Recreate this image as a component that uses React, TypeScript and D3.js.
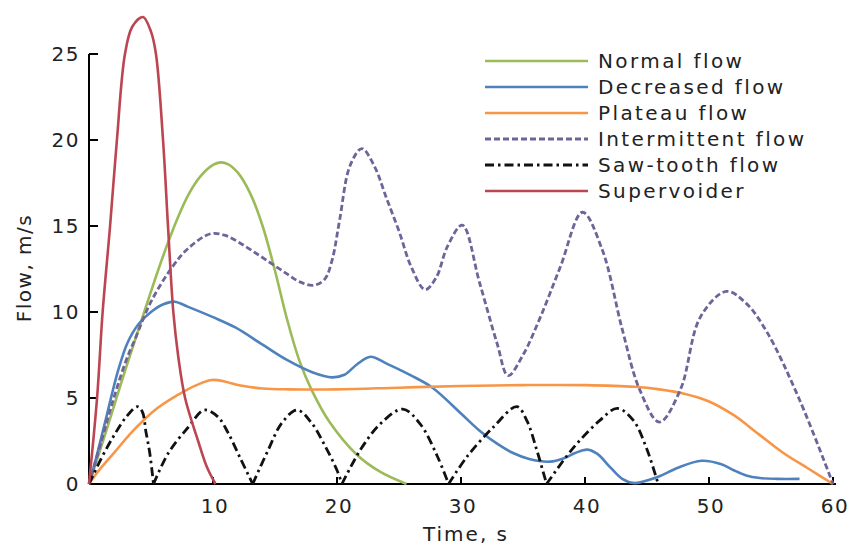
import * as d3 from "d3";

// [time s, flow m/s]
const normalFlow: [number, number][] = [
  [0, 0], [1, 2.2], [2, 4.5], [3, 6.8], [4, 9], [5, 11.2], [6, 13.3], [7, 15.2],
  [8, 16.8], [9, 17.9], [10, 18.55], [10.6, 18.7], [11.2, 18.6], [12, 18.1], [13, 16.9],
  [14, 15.0], [15, 12.4], [16, 9.5], [17, 7.1], [18, 5.4], [19.4, 3.6], [21.6, 1.7],
  [23.5, 0.7], [25.6, 0],
];
const decreasedFlow: [number, number][] = [
  [0, 0], [0.5, 1.3], [1.3, 3.6], [2.35, 6.6], [3.1, 8.2], [4, 9.3], [5, 10], [6, 10.45],
  [6.9, 10.6], [8, 10.3], [10, 9.7], [11.8, 9.1], [14, 8.1], [16, 7.2], [18, 6.5],
  [19.6, 6.2], [20.6, 6.35], [21.6, 6.95], [22.7, 7.4], [24, 7], [26, 6.3], [27.7, 5.6],
  [30, 4.1], [31.5, 3.1], [33, 2.3], [34.2, 1.8], [35.5, 1.45], [37.2, 1.3], [38.3, 1.5],
  [39.2, 1.8], [40.2, 2], [41, 1.75], [42, 1], [43, 0.3], [44, 0.05], [45, 0.2],
  [46, 0.45], [47.5, 0.95], [49.4, 1.35], [51, 1.15], [52, 0.8], [53, 0.5], [54.1, 0.35],
  [55.5, 0.3], [57.3, 0.3],
];
const plateauFlow: [number, number][] = [
  [0, 0], [0.7, 0.7], [2, 1.8], [3.7, 3.2], [5.5, 4.4], [7.7, 5.4], [9, 5.85], [9.9, 6.05],
  [11, 5.95], [12, 5.75], [14, 5.55], [16.2, 5.5], [20, 5.5], [25, 5.6], [30, 5.7],
  [35, 5.75], [40, 5.75], [44, 5.65], [46, 5.5], [48, 5.25], [50, 4.8], [52, 4.0],
  [54, 2.9], [56, 1.8], [58, 0.9], [60, 0],
];
const intermittentFlow: [number, number][] = [
  [0, 0], [1, 2.5], [2, 5], [3, 7.2], [3.7, 8.4], [5, 10.6], [6.7, 12.6], [8, 13.7],
  [9.8, 14.55], [11, 14.45], [12.2, 14.0], [13.5, 13.4], [14.75, 12.8], [16, 12.2],
  [17, 11.75], [18.1, 11.55], [19, 11.9], [19.6, 13], [20.2, 15.3], [21.05, 18.5],
  [22, 19.5], [23, 18.5], [24, 16.6], [25, 14.7], [26, 12.6], [27.1, 11.3], [28, 12],
  [28.9, 13.8], [30.1, 15.05], [31.5, 11.7], [32.9, 8.2], [33.8, 6.3], [35, 7.5],
  [36.4, 9.7], [38, 12.6], [39.8, 15.8], [41.4, 13.6], [43, 9], [44.4, 5.5], [46, 3.6],
  [47.7, 5.5], [49.3, 9.7], [51.4, 11.2], [53, 10.5], [54.7, 8.8], [57.3, 4.9], [60, 0],
];
const sawToothFlow: [number, number][] = [
  [0, 0], [1, 1.5], [2, 2.8], [3, 3.9], [3.9, 4.5], [4.3, 4.2], [4.6, 3], [4.9, 1.8], [5.2, 0],
  [6.4, 1.8], [8, 3.3], [9.3, 4.3], [10.4, 3.9], [11.2, 3.0], [12.2, 1.5], [13.2, 0],
  [14.4, 1.9], [15.6, 3.6], [16.8, 4.3], [17.9, 3.6], [18.9, 2.4], [20, 0.8], [20.4, 0],
  [21.9, 2.0], [23.5, 3.5], [25.3, 4.35], [26.7, 3.5], [28.1, 1.6], [29, 0],
  [30.5, 1.6], [32.6, 3.3], [34.5, 4.5], [35.3, 3.7], [36.1, 2.0], [36.9, 0],
  [38.5, 1.6], [39.6, 2.55], [41.2, 3.7], [42.6, 4.4], [43.9, 3.7], [45, 2.0], [45.9, 0],
];
const supervoider: [number, number][] = [
  [0, 0], [0.65, 5], [1.1, 10], [1.7, 15], [2.25, 20], [2.9, 25], [3.5, 26.6], [4.35, 27.15],
  [5, 26.3], [5.4, 25], [5.97, 20], [6.37, 15], [6.8, 10], [7.2, 7.4], [7.75, 5],
  [8.8, 2.5], [9.5, 1], [10.2, 0],
];

const xTicks = [10, 20, 30, 40, 50, 60];
const yTicks = [0, 5, 10, 15, 20, 25];

const seriesNames = [
  "Normal flow",
  "Decreased flow",
  "Plateau flow",
  "Intermittent flow",
  "Saw-tooth flow",
  "Supervoider",
];

const W = 852;
const H = 549;
const font = "'DejaVu Sans', sans-serif";

const styles = [
  { color: "#9bbb59", dash: "", w: 2.6 },
  { color: "#4f81bd", dash: "", w: 2.6 },
  { color: "#f79646", dash: "", w: 2.6 },
  { color: "#6f6399", dash: "6 3", w: 2.8 },
  { color: "#111111", dash: "9 4 2.5 4", w: 2.8 },
  { color: "#bb4550", dash: "", w: 2.6 },
];

// break the saw-tooth at its zero points so the bottoms stay sharp
function splitAtZeros(pts: [number, number][]) {
  const parts: [number, number][][] = [];
  let cur: [number, number][] = [];
  pts.forEach((p, i) => {
    cur.push(p);
    if (p[1] === 0 && i > 0) {
      parts.push(cur);
      cur = [p];
    }
  });
  if (cur.length > 1) parts.push(cur);
  return parts;
}

export default function App() {
  const x = d3.scaleLinear().domain([0, 60]).range([89, 833]);
  const y = d3.scaleLinear().domain([0, 25]).range([484, 54]);

  const line = d3
    .line<[number, number]>()
    .x((d) => x(d[0]))
    .y((d) => y(d[1]))
    .curve(d3.curveCatmullRom.alpha(0.5));

  const data = [normalFlow, decreasedFlow, plateauFlow, intermittentFlow, sawToothFlow, supervoider];

  const legend = d3.scalePoint<string>().domain(seriesNames).range([61, 191]);

  return (
    <svg
      width={W}
      height={H}
      style={{ position: "absolute", left: 0, top: 0, background: "#fff" }}
      fontFamily={font}
    >
      {/* axes */}
      <line x1={x(0)} x2={x(0)} y1={y(25)} y2={y(0)} stroke="#000" strokeWidth={2} />
      <line x1={x(0)} x2={x(60) + 3} y1={y(0)} y2={y(0)} stroke="#000" strokeWidth={2} />
      {yTicks.map((t) => (
        <g key={"y" + t}>
          <line x1={x(0)} x2={x(0) + 9} y1={y(t)} y2={y(t)} stroke="#000" strokeWidth={2} />
          <text x={x(0) - 9} y={y(t)} dy="0.36em" textAnchor="end" fontSize={20} letterSpacing={1.5} fill="#222">
            {t}
          </text>
        </g>
      ))}
      {xTicks.map((t) => (
        <g key={"x" + t}>
          <line x1={x(t)} x2={x(t)} y1={y(0)} y2={y(0) - 7} stroke="#000" strokeWidth={2} />
          <text x={x(t) + 2} y={y(0) + 22} dy="0.36em" textAnchor="middle" fontSize={20} letterSpacing={1.5} fill="#222">
            {t}
          </text>
        </g>
      ))}
      <text x={466} y={534} dy="0.36em" textAnchor="middle" fontSize={20} letterSpacing={2} fill="#222">
        Time, s
      </text>
      <text
        transform="translate(24,268) rotate(-90)"
        dy="0.36em"
        textAnchor="middle"
        fontSize={20}
        letterSpacing={1.5}
        fill="#222"
      >
        Flow, m/s
      </text>

      {/* curves */}
      {data.map((pts, i) => {
        const parts = i === 4 ? splitAtZeros(pts) : [pts];
        return parts.map((p, j) => (
          <path
            key={i + "-" + j}
            d={line(p) ?? ""}
            fill="none"
            stroke={styles[i].color}
            strokeWidth={styles[i].w}
            strokeDasharray={styles[i].dash || undefined}
          />
        ));
      })}

      {/* legend */}
      {seriesNames.map((name, i) => (
        <g key={name}>
          <line
            x1={485}
            x2={588}
            y1={legend(name)}
            y2={legend(name)}
            stroke={styles[i].color}
            strokeWidth={styles[i].w}
            strokeDasharray={styles[i].dash || undefined}
          />
          <text x={598} y={legend(name)} dy="0.36em" fontSize={20} letterSpacing={2.4} fill="#222">
            {name}
          </text>
        </g>
      ))}
    </svg>
  );
}
